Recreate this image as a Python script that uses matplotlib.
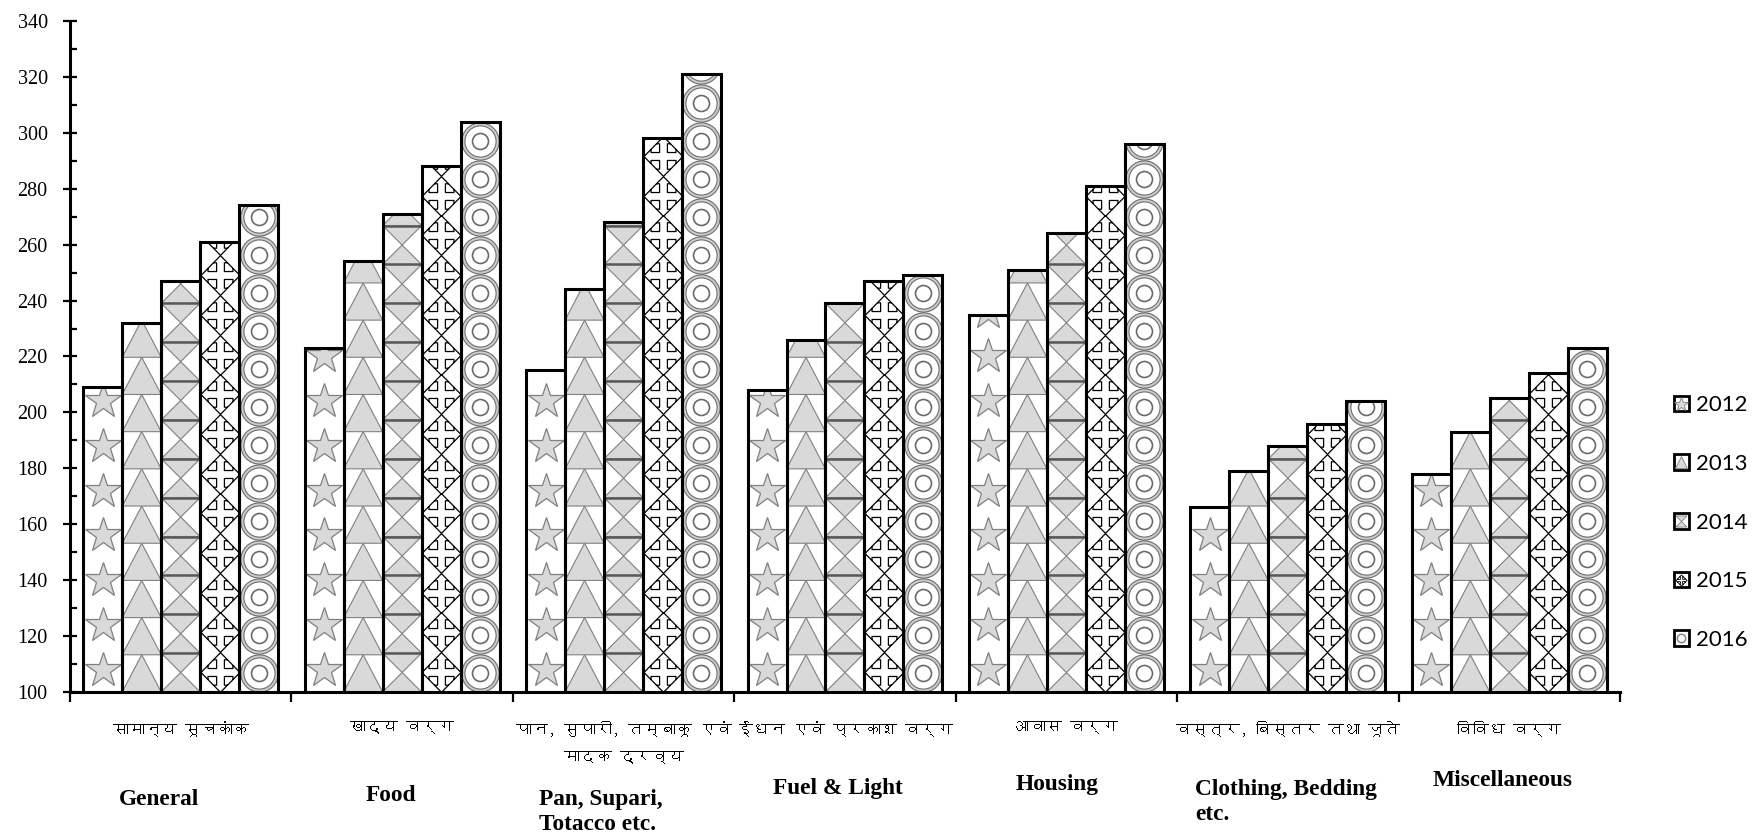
import numpy as np
import matplotlib
matplotlib.use("Agg")
import matplotlib.pyplot as plt
from matplotlib import font_manager, transforms
from matplotlib.ft2font import FT2Font
from matplotlib.path import Path
from matplotlib.patches import Patch
from matplotlib.lines import Line2D
from matplotlib.collections import PolyCollection, LineCollection

# chart data
years = ["2012", "2013", "2014", "2015", "2016"]
hindi_labels = ["सामान्य सूचकांक", "खाद्य वर्ग", "पान, सुपारी, तम्बाकू एवं\nमादक द्रव्य",
                "ईंधन एवं प्रकाश वर्ग", "आवास वर्ग", "वस्त्र, बिस्तर तथा जूते", "विविध वर्ग"]
english_labels = ["General", "Food", "Pan, Supari,\nTotacco etc.", "Fuel & Light",
                  "Housing", "Clothing, Bedding\netc.", "Miscellaneous"]
idx_2012 = [209, 223, 215, 208, 235, 166, 178]
idx_2013 = [232, 254, 244, 226, 251, 179, 193]
idx_2014 = [247, 271, 268, 239, 264, 188, 205]
idx_2015 = [261, 288, 298, 247, 281, 196, 214]
idx_2016 = [274, 304, 321, 249, 296, 204, 223]
y_ticks = list(range(100, 341, 20))

series = [idx_2012, idx_2013, idx_2014, idx_2015, idx_2016]
patterns = ["star", "triangle", "hourglass", "cross", "circle"]
tile_heights = [16.0, 13.3, 13.9, 14.2, 13.6]   # height of one pattern tile (data units)

# english label layout: (x in data, y in figure, horizontal alignment)
english_pos = [(-0.10, 0.042, "center"), (0.95, 0.047, "center"), (1.62, 0.027, "left"),
               (2.97, 0.056, "center"), (3.96, 0.061, "center"), (4.58, 0.040, "left"),
               (5.97, 0.065, "center")]

GRAY_FILL = "#d9d9d9"
GRAY_EDGE = "#808080"


def find_family(ch):
    # first installed family that has a glyph for ch
    for f in font_manager.fontManager.ttflist:
        try:
            if FT2Font(f.fname).get_char_index(ord(ch)):
                return f.name
        except Exception:
            pass
    return "DejaVu Sans"


deva_family = find_family("क")
serif = "Liberation Serif"

fig = plt.figure(figsize=(17.58, 8.35), dpi=100)
ax = fig.add_axes([0.0398, 0.1713, 0.8817, 0.8036])
ax.set_xlim(-0.5, 6.5)
ax.set_ylim(100, 340)
Y_MIN = ax.get_ylim()[0]

x = np.arange(len(english_labels))
bar_w = 0.176

# pixel size of one data unit, used to size the pattern markers
origin = ax.transData.transform((0, 0))
px_x = ax.transData.transform((1, 0))[0] - origin[0]
px_y = ax.transData.transform((0, 1))[1] - origin[1]
PT = 72.0 / fig.dpi


def cross_marker(w, h):
    # diamond with four arrow brackets, w x h in pixels
    verts, codes = [], []
    for u, v in [(1, 0), (0, 1), (-1, 0), (0, -1), (1, 0)]:
        verts.append((u * w / 2, v * h / 2))
    codes += [Path.MOVETO] + [Path.LINETO] * 3 + [Path.CLOSEPOLY]
    for su, sv in [(1, 1), (-1, 1), (-1, -1), (1, -1)]:
        pts = [(0.64, 0.36), (0.64, 0.2), (0.2, 0.2), (0.2, 0.64), (0.36, 0.64)]
        verts += [(su * a * w / 2, sv * b * h / 2) for a, b in pts]
        codes += [Path.MOVETO] + [Path.LINETO] * 4
    return Path(verts, codes)


def hourglass_marker():
    verts = [(-1, 1), (1, 1), (0, 0), (-1, 1), (-1, -1), (1, -1), (0, 0), (-1, -1)]
    codes = [Path.MOVETO, Path.LINETO, Path.LINETO, Path.CLOSEPOLY] * 2
    return Path(verts, codes)


def draw_pattern(bar, kind, h):
    x0 = bar.get_x()
    x1 = x0 + bar.get_width()
    xc = (x0 + x1) / 2
    top = bar.get_y() + bar.get_height()
    n = int(np.ceil((top - Y_MIN) / h))
    rows = Y_MIN + h * np.arange(n)
    w_px = bar.get_width() * px_x
    h_px = h * px_y
    artists = []
    if kind == "star":
        artists += ax.plot(np.full(n, xc), rows + h / 2, ls="none", marker="*",
                           ms=37 * PT, mfc=GRAY_FILL, mec=GRAY_EDGE, mew=0.9)
    elif kind == "triangle":
        polys = [[(x0, y0), (x1, y0), (xc, y0 + h)] for y0 in rows]
        artists.append(ax.add_collection(PolyCollection(
            polys, facecolors=GRAY_FILL, edgecolors=GRAY_EDGE, linewidths=0.8)))
    elif kind == "hourglass":
        polys = []
        for y0 in rows:
            polys.append([(x0, y0), (x1, y0), (xc, y0 + h / 2)])
            polys.append([(x0, y0 + h), (x1, y0 + h), (xc, y0 + h / 2)])
        artists.append(ax.add_collection(PolyCollection(
            polys, facecolors=GRAY_FILL, edgecolors=GRAY_EDGE, linewidths=0.8)))
        segs = [[(x0, y0), (x1, y0)] for y0 in rows[1:]]
        artists.append(ax.add_collection(LineCollection(segs, colors="#595959", linewidths=1.8)))
    elif kind == "cross":
        artists += ax.plot(np.full(n, xc), rows + h / 2, ls="none",
                           marker=cross_marker(w_px, h_px), ms=max(w_px, h_px) * PT,
                           mfc="none", mec="black", mew=0.9)
    elif kind == "circle":
        d = min(w_px, h_px)
        ys = rows + h / 2
        for size, lw, col in [(0.90, 2.4, "#cccccc"), (0.98, 0.8, "#707070"),
                              (0.82, 0.8, "#707070"), (0.42, 1.2, "#6a6a6a")]:
            artists += ax.plot(np.full(n, xc), ys, ls="none", marker="o",
                               ms=size * d * PT, mfc="none", mec=col, mew=lw)
    for a in artists:
        a.set_zorder(3)
        a.set_clip_path(bar)


for i, vals in enumerate(series):
    xs = x + (i - 2) * bar_w
    bars = ax.bar(xs, vals, bar_w, color="white", edgecolor="none", zorder=2)
    for bar in bars:
        draw_pattern(bar, patterns[i], tile_heights[i])
    ax.bar(xs, vals, bar_w, fill=False, edgecolor="black", linewidth=2.2, zorder=4)

# axes styling
for side in ["top", "right"]:
    ax.spines[side].set_visible(False)
for side in ["left", "bottom"]:
    ax.spines[side].set_linewidth(2.2)
    ax.spines[side].set_zorder(5)

ax.set_yticks(y_ticks)
ax.set_yticks(np.arange(110, 340, 20), minor=True)
ax.tick_params(axis="y", which="major", direction="inout", length=10, width=1.6,
               labelsize=14.5, pad=11)
ax.tick_params(axis="y", which="minor", direction="in", length=5, width=1.6)
for lab in ax.get_yticklabels():
    lab.set_fontfamily(serif)

ax.set_xticks(np.arange(-0.5, 7, 1))
ax.set_xticklabels([])
ax.tick_params(axis="x", which="major", direction="out", length=7, width=1.6)

# category labels below the axis
blend = transforms.blended_transform_factory(ax.transData, fig.transFigure)
for xi, lab in zip(x, hindi_labels):
    fig.text(xi, 0.137, lab, transform=blend, ha="center", va="top", fontsize=11.5,
             fontweight="bold", family=[deva_family, "DejaVu Sans"], linespacing=2.3)
for lab, (xp, yp, ha) in zip(english_labels, english_pos):
    fig.text(xp, yp, lab, transform=blend, ha=ha, va="center", multialignment="left",
             fontsize=16.8, fontweight="bold", family=serif, linespacing=1.25)

# legend with small pattern icons
icon_box = dict(facecolor="white", edgecolor="black", linewidth=2)
handles = [
    (Patch(**icon_box), Line2D([], [], ls="none", marker="*", ms=10, mfc=GRAY_FILL,
                               mec=GRAY_EDGE, mew=0.6)),
    (Patch(**icon_box), Line2D([], [], ls="none", marker="^", ms=8, mfc=GRAY_FILL,
                               mec=GRAY_EDGE, mew=0.6)),
    (Patch(**icon_box), Line2D([], [], ls="none", marker=hourglass_marker(), ms=8,
                               mfc=GRAY_FILL, mec=GRAY_EDGE, mew=0.6)),
    (Patch(**icon_box), Line2D([], [], ls="none", marker=cross_marker(10, 10), ms=8,
                               mfc="none", mec="black", mew=0.6)),
    (Patch(**icon_box), Line2D([], [], ls="none", marker="o", ms=6, mfc="none",
                               mec=GRAY_EDGE, mew=1.0)),
]
fig.legend(handles, years, loc="center left", bbox_to_anchor=(0.952, 0.374),
           frameon=False, numpoints=1, handlelength=0.7, handleheight=0.7,
           handletextpad=0.3, labelspacing=1.74, borderpad=0, borderaxespad=0,
           prop={"family": "Lato", "size": 16})

fig.savefig("out.png", dpi=100)
